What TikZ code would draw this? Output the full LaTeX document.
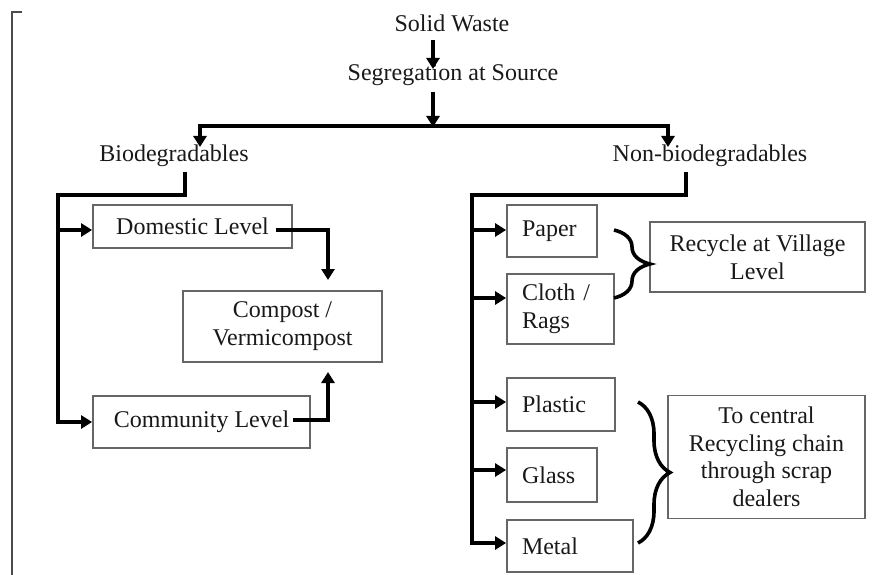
\documentclass[tikz,border=0pt]{standalone}
\usepackage{fontspec}
\setmainfont{Liberation Serif}
\usetikzlibrary{arrows.meta,decorations.pathreplacing}
\begin{document}
\begin{tikzpicture}[x=1pt,y=-1pt,
  every node/.style={font=\fontsize{24}{28}\selectfont, text=black!90},
  lbl/.style={inner sep=0pt},
  box/.style={draw=black!60, line width=1.8pt, inner ysep=0pt, inner xsep=0pt, align=center},
  lbox/.style={draw=black!60, line width=1.8pt, inner ysep=0pt, inner xsep=15pt, align=left},
  conn/.style={line width=4.6pt, line join=miter, -{Triangle[length=11pt,width=13pt]}},
  trunk/.style={line width=4.6pt, line join=miter},
  bracestyle/.style={line width=3.6pt, decorate, decoration={brace, amplitude=#1}},
  frame/.style={draw=black!70, line width=2.5pt}
]
\useasboundingbox (0,0) rectangle (875,575);

% frame
\draw[frame] (22,12) -- (12,12) -- (12,575);

% top labels
\node[lbl] (solid) at (452,23) {Solid Waste};
\node[lbl] (seg) at (453,75) {Segregation at Source};
\node[lbl] (bio) at (174,156) {Biodegradables};
\node[lbl] (nonbio) at (710,156) {Non-biodegradables};

% boxes left
\node[box, minimum width=199pt, minimum height=43pt] (dom) at (192.5,226.5) {Domestic Level};
\node[box, minimum width=217pt, minimum height=52pt] (com) at (201.5,422) {Community Level};
\node[box, minimum width=199pt, minimum height=71pt] (comp) at (282.5,326.5) {Compost /\\Vermicompost};

% boxes right
\node[lbox, minimum width=90pt, minimum height=52pt, text width=60pt] (paper) at (552,231) {Paper};
\node[lbox, minimum width=107pt, minimum height=70pt, text width=77pt] (cloth) at (560.5,309) {Cloth /\\Rags};
\node[lbox, minimum width=108pt, minimum height=53pt, text width=78pt] (plastic) at (561,404.5) {Plastic};
\node[lbox, minimum width=90pt, minimum height=54pt, text width=60pt] (glass) at (552,475) {Glass};
\node[lbox, minimum width=126pt, minimum height=52pt, text width=96pt] (metal) at (570,546) {Metal};
\node[box, minimum width=215pt, minimum height=70pt] (recyc) at (757.5,257) {Recycle at Village\\Level};
\node[box, minimum width=197pt, minimum height=123pt, font=\fontsize{24}{27.5}\selectfont] (central) at (766.5,457) {To central\\Recycling chain\\through scrap\\dealers};

% top connectors
\coordinate (s1) at (433,40);
\coordinate (s2) at (433,69);
\draw[conn] (s1) -- (s2);
\coordinate (g1) at (433,92);
\coordinate (g2) at (433,127);
\draw[conn] (g1) -- (g2);
\coordinate (hl) at (200,126);
\coordinate (hr) at (668,126);
\coordinate (bt) at (200,147);
\coordinate (nt) at (668,147);
\draw[conn] (hr) -- (hl) -- (bt);
\draw[conn] (hl) -- (hr) -- (nt);

% biodegradable trunk
\coordinate (b0) at (185,172);
\coordinate (b1) at (185,195);
\coordinate (b2) at (58,195);
\coordinate (bd) at (58,230);
\coordinate (bc) at (58,422);
\draw[conn] (b0) -- (b1) -- (b2) -- (bc) -- (bc -| com.west);
\draw[conn] (bd) -- (bd -| dom.west);

% to compost
\coordinate (d0) at ([xshift=-17pt]dom.east);
\coordinate (d1) at (328,230);
\coordinate (d2) at (328,280);
\draw[conn] (d0 |- d1) -- (d1) -- (d2);
\coordinate (c0) at ([xshift=-18pt]com.east);
\coordinate (c1) at (328,420);
\coordinate (c2) at (328,372);
\draw[conn] (c0 |- c1) -- (c1) -- (c2);

% non-biodegradable trunk
\coordinate (n0) at (686,172);
\coordinate (n1) at (686,195);
\coordinate (n2) at (472,195);
\coordinate (np) at (472,230);
\coordinate (nc) at (472,298);
\coordinate (npl) at (472,402);
\coordinate (ng) at (472,470);
\coordinate (nm) at (472,543);
\draw[conn] (n0) -- (n1) -- (n2) -- (nm) -- (nm -| metal.west);
\draw[conn] (np) -- (np -| paper.west);
\draw[conn] (nc) -- (nc -| cloth.west);
\draw[conn] (npl) -- (npl -| plastic.west);
\draw[conn] (ng) -- (ng -| glass.west);

% braces
\coordinate (r1) at (614,230);
\coordinate (r2) at (614,298);
\draw[bracestyle=36pt] (r1) -- (r2);
\coordinate (q1) at (638,402);
\coordinate (q2) at (638,543);
\draw[bracestyle=32pt] (q1) -- (q2);
\end{tikzpicture}
\end{document}
